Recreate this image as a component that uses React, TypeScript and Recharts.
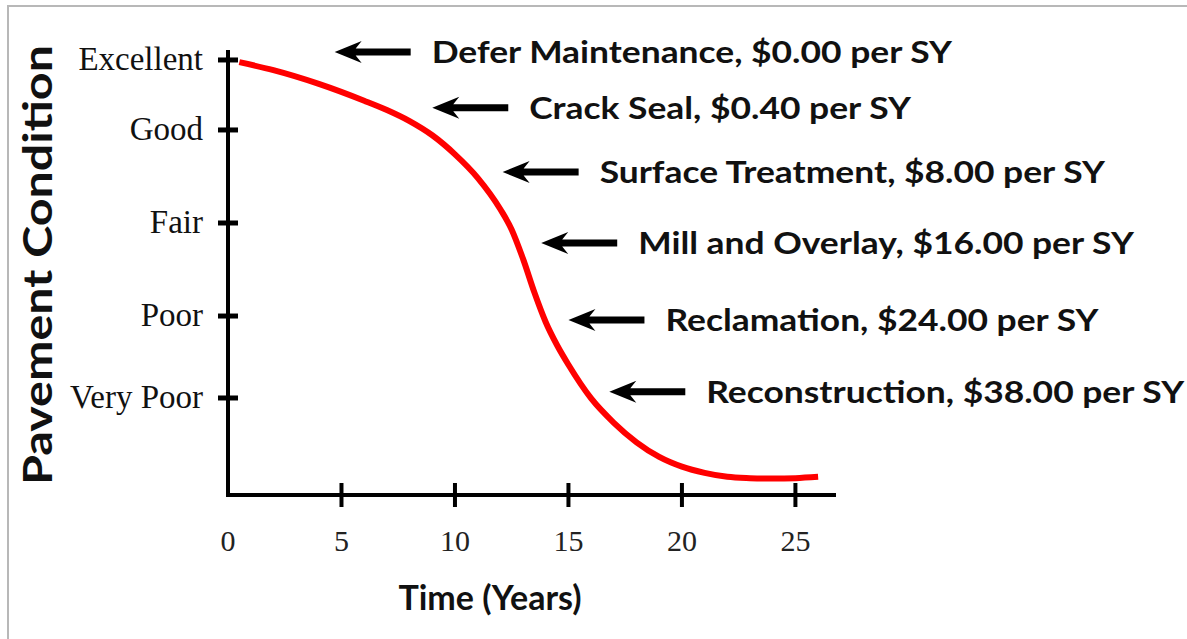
import React from "react";
import { LineChart, Line, XAxis, YAxis, ReferenceDot } from "recharts";

// pavement deterioration curve
const years = [0.5, 2, 4, 6, 7, 8, 9, 10, 11, 12, 12.5, 13, 13.5, 14, 14.5, 15, 16, 17, 18, 19, 20, 21, 22, 23, 24, 25, 26];
const condition = [97.7, 95.9, 92.8, 89.0, 86.9, 84.4, 81.2, 76.9, 71.6, 64.5, 59.9, 53.3, 45.7, 39.0, 33.8, 29.4, 21.8, 16.3, 11.9, 8.6, 6.4, 5.0, 4.1, 3.8, 3.7, 3.8, 4.1];

const yearTicks = [0, 5, 10, 15, 20, 25];
const conditionTicks = [98.2, 82.4, 61.4, 40.4, 21.9];
const conditionLabels = ["Excellent", "Good", "Fair", "Poor", "Very Poor"];

const treatments = [
  "Defer Maintenance, $0.00 per SY",
  "Crack Seal, $0.40 per SY",
  "Surface Treatment, $8.00 per SY",
  "Mill and Overlay, $16.00 per SY",
  "Reclamation, $24.00 per SY",
  "Reconstruction, $38.00 per SY",
];
const arrowYears = [4.7, 9.0, 12.1, 13.8, 15.0, 16.8];
const arrowConditions = [100, 87.4, 72.9, 56.9, 39.5, 23.3];

const data = years.map((t, i) => ({ t, c: condition[i] }));

const SERIF = "'Liberation Serif', 'DejaVu Serif', serif";
const SANS = "Lato, 'Open Sans', sans-serif";

function YTick(props: any) {
  const { x, y, index } = props;
  return (
    <g>
      <line x1={x - 10} x2={x + 10} y1={y} y2={y} stroke="#000" strokeWidth={5} />
      <text x={x - 25} y={y} dy="0.3em" textAnchor="end" fontFamily={SERIF} fontSize={33} fill="#111">
        {conditionLabels[index]}
      </text>
    </g>
  );
}

function XTick(props: any) {
  const { x, y, payload } = props;
  return (
    <g>
      {payload.value !== 0 && <line x1={x} x2={x} y1={y - 12} y2={y + 12} stroke="#000" strokeWidth={4} />}
      <text x={x} y={y + 56} textAnchor="middle" fontFamily={SERIF} fontSize={30} fill="#222">
        {payload.value}
      </text>
    </g>
  );
}

function Callout(props: any) {
  const { cx, cy, label } = props;
  return (
    <g>
      <path
        d={`M${cx},${cy} L${cx + 27},${cy - 11} L${cx + 21},${cy - 3.5} L${cx + 76},${cy - 3.5} L${cx + 76},${cy + 3.5} L${cx + 21},${cy + 3.5} L${cx + 27},${cy + 11} Z`}
        fill="#000"
      />
      <text
        transform={`translate(${cx + 97} ${cy}) scale(1.18 1)`}
        dy="0.36em"
        fontFamily={SANS}
        fontWeight={700}
        fontSize={30}
        fill="#111"
      >
        {label}
      </text>
    </g>
  );
}

export default function App() {
  return (
    <div style={{ position: "absolute", left: 0, top: 0, width: 1187, height: 639, background: "#fff" }}>
      <div
        style={{
          position: "absolute",
          left: 7,
          top: 5,
          right: 0,
          bottom: 0,
          borderLeft: "2px solid #b8b8b8",
          borderTop: "2px solid #b8b8b8",
        }}
      />
      <div style={{ position: "absolute", left: 0, top: 0 }}>
        <LineChart width={1187} height={639} data={data} margin={{ top: 52, right: 353, bottom: 143, left: 227 }}>
          <XAxis
            dataKey="t"
            type="number"
            domain={[0, 26.7]}
            ticks={yearTicks}
            interval={0}
            height={1}
            tickSize={0}
            tickMargin={0}
            tickLine={false}
            tick={<XTick />}
            axisLine={{ stroke: "#000", strokeWidth: 4, strokeLinecap: "square" }}
            label={{
              content: (p: any) => {
                const vb = p.viewBox || { x: 228, y: 495, width: 606 };
                return (
                  <text x={vb.x + 262} y={vb.y + 115} textAnchor="middle" fontFamily={SANS} fontWeight={700} fontSize={34} fill="#111">
                    Time (Years)
                  </text>
                );
              },
            }}
          />
          <YAxis
            type="number"
            domain={[0, 100]}
            ticks={conditionTicks}
            interval={0}
            width={1}
            tickSize={0}
            tickMargin={0}
            tickLine={false}
            tick={<YTick />}
            axisLine={{ stroke: "#000", strokeWidth: 4, strokeLinecap: "square" }}
            label={{
              content: (p: any) => {
                const vb = p.viewBox || { x: 227, y: 52, height: 443 };
                const cx = vb.x + vb.width - 176;
                const cy = vb.y + 213;
                return (
                  <text
                    x={cx}
                    y={cy}
                    transform={`rotate(-90 ${cx} ${cy})`}
                    textAnchor="middle"
                    fontFamily={SANS}
                    fontWeight={700}
                    fontSize={40}
                    textLength={440}
                    lengthAdjust="spacingAndGlyphs"
                    fill="#111"
                  >
                    Pavement Condition
                  </text>
                );
              },
            }}
          />
          <Line type="monotone" dataKey="c" stroke="#ff0000" strokeWidth={6} dot={false} isAnimationActive={false} />
          {treatments.map((label, i) => (
            <ReferenceDot
              key={label}
              x={arrowYears[i]}
              y={arrowConditions[i]}
              ifOverflow="visible"
              shape={(p: any) => <Callout {...p} label={label} />}
            />
          ))}
        </LineChart>
      </div>
    </div>
  );
}
